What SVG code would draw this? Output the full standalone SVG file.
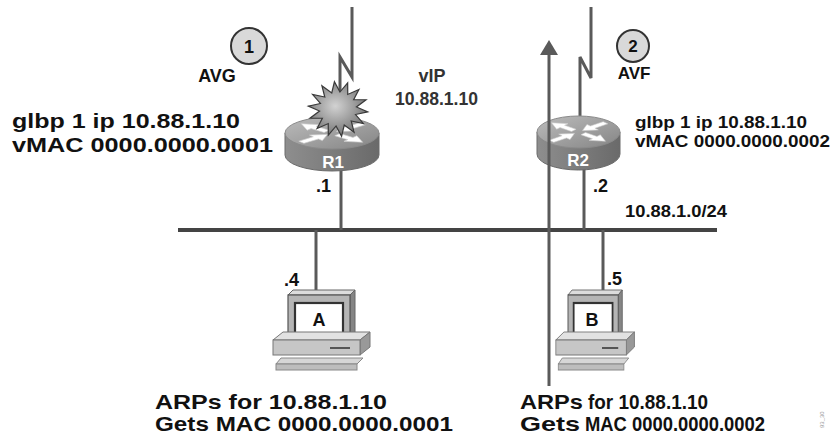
<svg xmlns="http://www.w3.org/2000/svg" width="831" height="440" viewBox="0 0 831 440">
  <style>
    text { font-family: "Liberation Sans", Arial, sans-serif; font-weight: bold; fill: #111; }
    .lbl { font-size: 18px; }
    .big { font-size: 21px; }
    .mid { font-size: 21px; }
    .sm { font-size: 17px; }
    .xs { font-size: 16px; }
    .wire { stroke: #5a5a5a; stroke-width: 3; fill: none; }
    .bus { stroke: #444; stroke-width: 4; fill: none; }
    .rtxt { fill: #fff; font-size: 17px; text-anchor: middle; }
    .arr { fill: #fff; stroke: #d0d0d0; stroke-width: 0.8; }
    .step { fill: #d9d9d9; stroke: #333; stroke-width: 2; }
  </style>
  <defs>
    <linearGradient id="rtop" x1="0" y1="0" x2="1" y2="1">
      <stop offset="0" stop-color="#bcbcbc"/>
      <stop offset="1" stop-color="#858585"/>
    </linearGradient>
    <linearGradient id="rside" x1="0" y1="0" x2="1" y2="0">
      <stop offset="0" stop-color="#8e8e8e"/>
      <stop offset="0.5" stop-color="#7c7c7c"/>
      <stop offset="1" stop-color="#6a6a6a"/>
    </linearGradient>
    <radialGradient id="burst" cx="0.45" cy="0.45" r="0.6">
      <stop offset="0" stop-color="#d2d2d2"/>
      <stop offset="1" stop-color="#6e6e6e"/>
    </radialGradient>
    <!-- white direction arrows printed on a router's top face -->
    <g id="router-arrows">
      <g transform="scale(1,0.36)">
        <path class="arr" transform="rotate(-140)" d="M7,-4 L24,-4 L24,-10 L40,0 L24,10 L24,4 L7,4 Z"/>
        <path class="arr" transform="rotate(40)" d="M7,-4 L24,-4 L24,-10 L40,0 L24,10 L24,4 L7,4 Z"/>
        <path class="arr" transform="rotate(-40)" d="M40,-4 L21,-4 L21,-10 L6,0 L21,10 L21,4 L40,4 Z"/>
        <path class="arr" transform="rotate(140)" d="M40,-4 L21,-4 L21,-10 L6,0 L21,10 L21,4 L40,4 Z"/>
      </g>
    </g>
    <!-- desktop PC: monitor, system unit, keyboard -->
    <g id="pc">
      <polygon points="288,295 293,290 355,290 350,295" fill="#dcdcdc" stroke="#666" stroke-width="1"/>
      <polygon points="350,295 355,290 355,337 350,342" fill="#858585" stroke="#666" stroke-width="1"/>
      <rect x="288" y="295" width="62" height="47" fill="#b5b5b5" stroke="#555" stroke-width="1.2"/>
      <rect x="295" y="303" width="48" height="31" fill="#fff" stroke="#333" stroke-width="2.2"/>
      <polygon points="273,340 283,332 370,332 360,340" fill="#e2e2e2" stroke="#777" stroke-width="1"/>
      <polygon points="360,340 370,332 370,347 360,355" fill="#999" stroke="#777" stroke-width="1"/>
      <rect x="273" y="340" width="87" height="15" fill="#c6c6c6" stroke="#777" stroke-width="1"/>
      <line x1="330" y1="348" x2="350" y2="348" stroke="#555" stroke-width="2"/>
      <polygon points="281,358 363,358 357,364 276,364" fill="#d6d6d6" stroke="#888" stroke-width="1"/>
      <rect x="276" y="364" width="81" height="6" fill="#bdbdbd" stroke="#888" stroke-width="1"/>
    </g>
  </defs>

  <!-- links, LAN segment and traffic arrow -->
  <g id="connectors">
    <polyline class="wire" points="352,7 352,77 340,57 340,122"/>
    <polyline class="wire" points="591,7 591,78 580,57 580,116"/>
    <line class="bus" x1="178" y1="230" x2="717" y2="230"/>
    <line class="wire" x1="341" y1="168" x2="341" y2="230"/>
    <line class="wire" x1="584" y1="168" x2="584" y2="230"/>
    <line class="wire" x1="316" y1="230" x2="316" y2="292"/>
    <line class="wire" x1="603" y1="230" x2="603" y2="292"/>
  </g>

  <g id="r1">
    <path d="M285,133 v22 a47,16 0 0 0 94,0 v-22 z" fill="url(#rside)" stroke="#6a6a6a" stroke-width="1"/>
    <ellipse cx="332" cy="133" rx="47" ry="16" fill="url(#rtop)" stroke="#8a8a8a" stroke-width="1"/>
    <use href="#router-arrows" transform="translate(332,133)"/>
    <text class="rtxt" x="333" y="168">R1</text>
    <polygon transform="translate(338,109) scale(1.03,0.95) rotate(6)" fill="url(#burst)" stroke="#3a3a3a" stroke-width="1.2"
      points="29,0 17.55,4 26.13,12.58 14.07,11.22 18.08,22.67 7.81,16.22 6.45,28.27 0,18 -6.45,28.27 -7.81,16.22 -18.08,22.67 -14.07,11.22 -26.13,12.58 -17.55,4 -29,0 -17.55,-4 -26.13,-12.58 -14.07,-11.22 -18.08,-22.67 -7.81,-16.22 -6.45,-28.27 0,-18 6.45,-28.27 7.81,-16.22 18.08,-22.67 14.07,-11.22 26.13,-12.58 17.55,-4"/>
  </g>

  <g id="r2">
    <path d="M537,132 v22 a41.5,16 0 0 0 83,0 v-22 z" fill="url(#rside)" stroke="#6a6a6a" stroke-width="1"/>
    <ellipse cx="578.5" cy="132" rx="41.5" ry="16" fill="url(#rtop)" stroke="#8a8a8a" stroke-width="1"/>
    <use href="#router-arrows" transform="translate(578.5,132) scale(0.88,1)"/>
    <text class="rtxt" x="578" y="166">R2</text>
  </g>

  <g id="flow-arrow">
    <line class="wire" stroke="#666" x1="549" y1="52" x2="549" y2="386"/>
    <polygon points="549,40 540,55 558,55" fill="#5a5a5a"/>
  </g>

  <g id="pc-a">
    <use href="#pc"/>
    <text class="lbl" x="319" y="326" text-anchor="middle">A</text>
  </g>
  <g id="pc-b">
    <use href="#pc" transform="translate(568,0) scale(0.81,1) translate(-288,0)"/>
    <text class="lbl" x="592" y="326" text-anchor="middle">B</text>
  </g>

  <g id="step-1">
    <circle class="step" cx="249" cy="46" r="18"/>
    <text class="lbl" x="249" y="53" text-anchor="middle">1</text>
    <text class="lbl" x="217" y="82" text-anchor="middle">AVG</text>
  </g>
  <g id="step-2">
    <circle class="step" cx="633" cy="46" r="16"/>
    <text class="sm" x="633" y="52" text-anchor="middle">2</text>
    <text class="sm" x="634" y="79" text-anchor="middle">AVF</text>
  </g>

  <g id="labels">
    <text class="lbl" x="432" y="82" text-anchor="middle" style="fill:#333">vIP</text>
    <text class="lbl" x="395" y="105" textLength="83" lengthAdjust="spacingAndGlyphs" style="fill:#333">10.88.1.10</text>
    <text class="mid" x="12" y="128" textLength="228" lengthAdjust="spacingAndGlyphs">glbp 1 ip 10.88.1.10</text>
    <text class="mid" x="12" y="152" textLength="261" lengthAdjust="spacingAndGlyphs">vMAC 0000.0000.0001</text>
    <text class="xs" x="635" y="128" textLength="172" lengthAdjust="spacingAndGlyphs">glbp 1 ip 10.88.1.10</text>
    <text class="xs" x="635" y="147" textLength="195" lengthAdjust="spacingAndGlyphs">vMAC 0000.0000.0002</text>
    <text class="sm" x="625" y="217" textLength="102" lengthAdjust="spacingAndGlyphs">10.88.1.0/24</text>
    <text class="lbl" x="316" y="192">.1</text>
    <text class="lbl" x="593" y="192">.2</text>
    <text class="lbl" x="284" y="286">.4</text>
    <text class="lbl" x="607" y="285">.5</text>
    <text class="big" x="155" y="409" textLength="232" lengthAdjust="spacingAndGlyphs">ARPs for 10.88.1.10</text>
    <text class="big" x="155" y="431" textLength="298" lengthAdjust="spacingAndGlyphs">Gets MAC 0000.0000.0001</text>
    <text class="big" x="520" y="409" textLength="63" lengthAdjust="spacingAndGlyphs">ARPs</text>
    <text class="big" x="588" y="409" textLength="120" lengthAdjust="spacingAndGlyphs">for 10.88.1.10</text>
    <text class="big" x="520" y="431" textLength="60" lengthAdjust="spacingAndGlyphs">Gets</text>
    <text class="big" x="585" y="431" textLength="180" lengthAdjust="spacingAndGlyphs">MAC 0000.0000.0002</text>
    <text x="0" y="0" transform="translate(824,428) rotate(-90)" style="font-size:6px;font-weight:normal;fill:#999">93_30</text>
  </g>
</svg>
